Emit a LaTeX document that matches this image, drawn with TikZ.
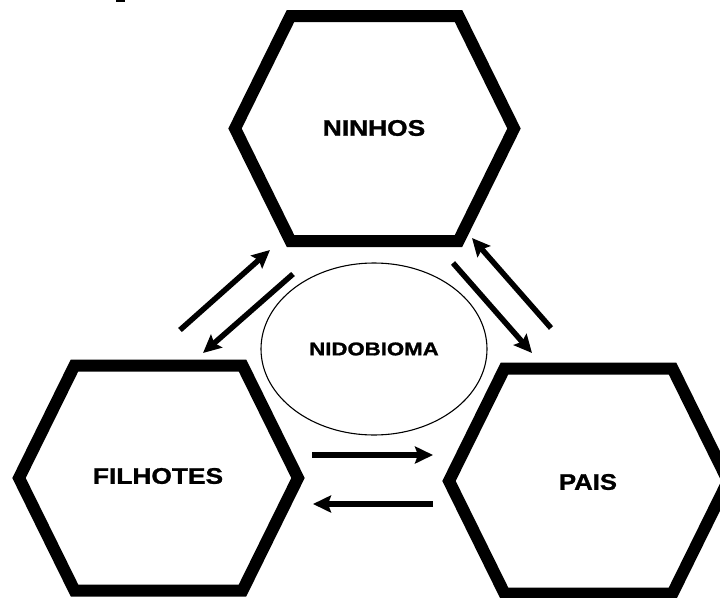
\documentclass[tikz,border=0pt]{standalone}
\usepackage{fontspec}
\setmainfont{Liberation Sans}
\newfontfamily\heavyfont{Liberation Sans Bold}[FakeBold=1.2]
\usepackage{graphicx}
\usetikzlibrary{arrows.meta,shapes.geometric}
\tikzset{
  hexa/.style={line width=12pt, line join=miter, draw=black},
  hexlabel/.style={font=\fontsize{22.5}{26}\selectfont\heavyfont, inner sep=0pt},
  flow/.style={line width=5.5pt, -{Stealth[length=18pt,width=17pt,inset=3pt]}},
  biome/.style={ellipse, draw=black, line width=1.1pt, minimum width=226pt, minimum height=172pt, inner sep=0pt, font=\fontsize{18.5}{21}\selectfont\heavyfont}
}
\newcommand\hexshape[1]{(#1) ++(-139.5,0) -- ++(55.5,-112.5) -- ++(168,0) -- ++(55.5,112.5) -- ++(-55.5,112.5) -- ++(-168,0) -- cycle}
\begin{document}
\begin{tikzpicture}[x=1pt,y=-1pt]
\useasboundingbox (0,0) rectangle (720,597);
\clip (0,0) rectangle (720,597);
\fill[white] (0,0) rectangle (720,597);
\fill[black] (116,0) rectangle (125,2);
% centres
\coordinate (cN) at (374.5,128.5);
\coordinate (cF) at (158.5,478);
\coordinate (cP) at (588.5,481);
% hexagons
\draw[hexa] \hexshape{cN};
\draw[hexa] \hexshape{cF};
\draw[hexa] \hexshape{cP};
% labels
\node[hexlabel] (ninhos) at (374,128) {\scalebox{1.17}[1]{NINHOS}};
\node[hexlabel] (filhotes) at (158,476) {\scalebox{1.17}[1]{FILHOTES}};
\node[hexlabel] (pais) at (588,482) {\scalebox{1.14}[1]{PAIS}};
\node[biome] (nido) at (374,349) {\scalebox{1.2}[1]{NIDOBIOMA}};
% arrow end points
\coordinate (a1s) at (180,330); \coordinate (a1e) at (270,250);
\coordinate (a2s) at (293,274); \coordinate (a2e) at (203,353);
\coordinate (a3s) at (453,263); \coordinate (a3e) at (532,353);
\coordinate (a4s) at (551,328); \coordinate (a4e) at (472,238);
\coordinate (a5s) at (312,455); \coordinate (a5e) at (433,455);
\coordinate (a6s) at (433,504); \coordinate (a6e) at (313,504);
\draw[flow] (a1s) -- (a1e);
\draw[flow] (a2s) -- (a2e);
\draw[flow] (a3s) -- (a3e);
\draw[flow] (a4s) -- (a4e);
\draw[flow] (a5s) -- (a5e);
\draw[flow] (a6s) -- (a6e);
\end{tikzpicture}
\end{document}
